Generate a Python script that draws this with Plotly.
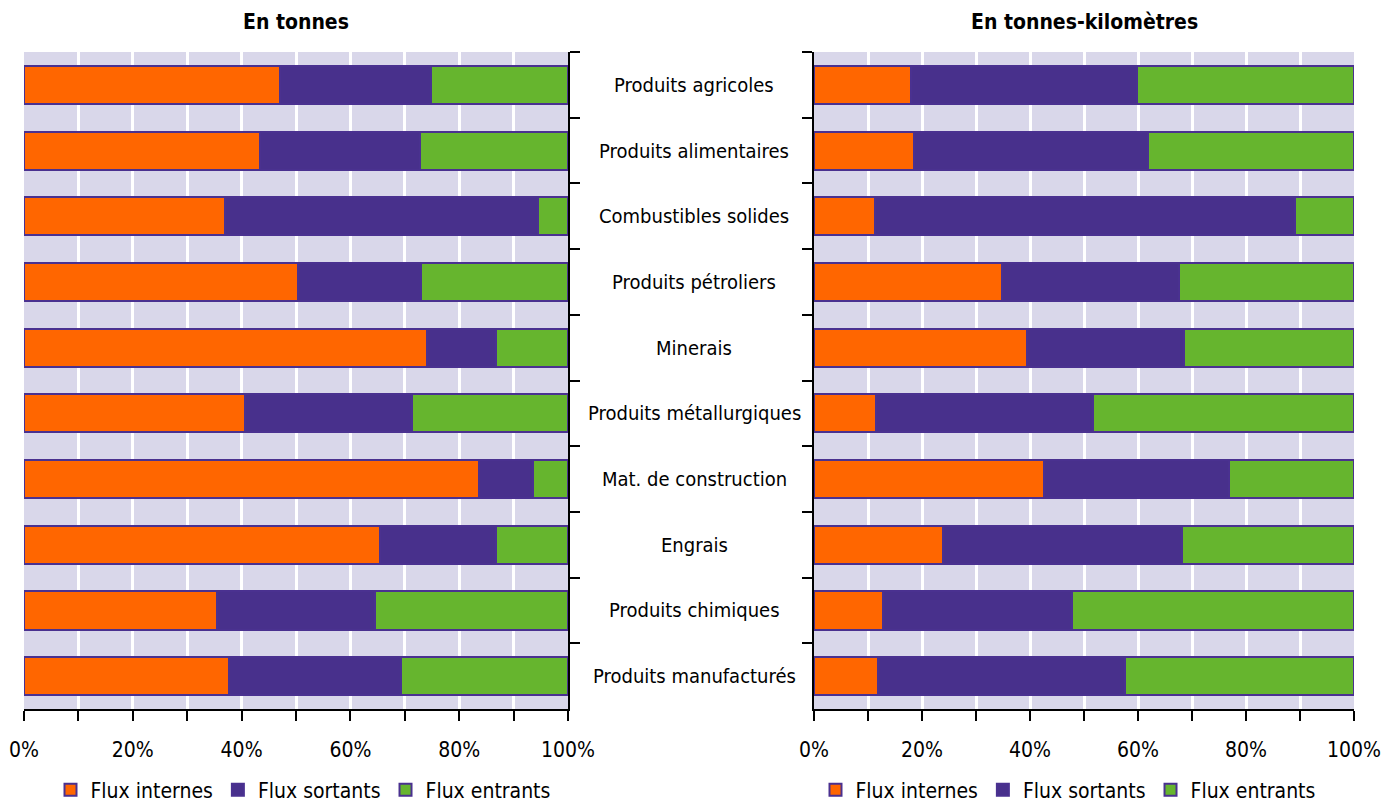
import plotly.graph_objects as go

categories = [
    "Produits agricoles",
    "Produits alimentaires",
    "Combustibles solides",
    "Produits pétroliers",
    "Minerais",
    "Produits métallurgiques",
    "Mat. de construction",
    "Engrais",
    "Produits chimiques",
    "Produits manufacturés",
]

series_names = ["Flux internes", "Flux sortants", "Flux entrants"]

# Parts (%) en tonnes
tonnes_internes = [47.1, 43.4, 36.9, 50.3, 74.1, 40.7, 83.6, 65.4, 35.5, 37.6]
tonnes_sortants = [27.7, 29.4, 57.5, 22.6, 12.7, 30.6, 9.9, 21.3, 29.0, 31.7]
tonnes_entrants = [25.2, 27.2, 5.6, 27.1, 13.2, 28.7, 6.5, 13.3, 35.5, 30.7]

# Parts (%) en tonnes-kilomètres
tkm_internes = [17.9, 18.5, 11.3, 34.9, 39.4, 11.4, 42.5, 23.8, 12.8, 11.8]
tkm_sortants = [42.0, 43.4, 77.8, 32.7, 29.1, 40.2, 34.3, 44.3, 35.0, 45.7]
tkm_entrants = [40.1, 38.1, 10.9, 32.4, 31.5, 48.4, 23.2, 31.9, 52.2, 42.5]

titles = ["En tonnes", "En tonnes-kilomètres"]
x_ticks = [0, 20, 40, 60, 80, 100]
x_minor = [10, 30, 50, 70, 90]

colors = ["#FF6600", "#48308C", "#66B52E"]
edge = "#4A3190"
bg = "#D9D7EA"
FAMILY = "DejaVu Sans Condensed, Liberation Sans Narrow, Roboto, sans-serif"


def font(size=21, bold=False):
    return dict(family=FAMILY, size=size, color="black",
                weight="bold" if bold else "normal")


fig = go.Figure()

panels = [
    ("x", "y", "legend", [tonnes_internes, tonnes_sortants, tonnes_entrants]),
    ("x2", "y2", "legend2", [tkm_internes, tkm_sortants, tkm_entrants]),
]
for xa, ya, leg, vals in panels:
    for name, color, v in zip(series_names, colors, vals):
        fig.add_trace(go.Bar(
            y=categories, x=v, name=name, orientation="h",
            marker=dict(color=color, line=dict(color=edge, width=2)),
            xaxis=xa, yaxis=ya, legend=leg, hoverinfo="x+y+name",
        ))

n = len(categories)
bounds = [i - 0.5 for i in range(n + 1)]

x_common = dict(
    range=[0, 100], tickmode="array", tickvals=x_ticks,
    ticktext=[f"{t}%" for t in x_ticks],
    ticks="outside", ticklen=10, tickwidth=2, tickcolor="black",
    showline=True, linecolor="black", linewidth=2,
    showgrid=True, gridcolor="white", gridwidth=3,
    minor=dict(tickmode="array", tickvals=x_minor, ticks="outside",
               ticklen=10, tickwidth=2, tickcolor="black",
               showgrid=True, gridcolor="white", gridwidth=3),
    zeroline=False, fixedrange=True, ticklabelstandoff=11,
    automargin=False, tickfont=font(),
)
x_inner = dict(
    range=[0, 100], tickmode="array", tickvals=x_ticks + x_minor,
    ticks="inside", ticklen=10, tickwidth=2, tickcolor="black",
    showticklabels=False, showgrid=False, zeroline=False, showline=False,
    side="bottom", automargin=False,
)
y_common = dict(
    type="category", categoryorder="array", categoryarray=categories,
    autorange="reversed", tickson="boundaries",
    ticks="outside", ticklen=10, tickwidth=2, tickcolor="black",
    showticklabels=False, showline=True, linecolor="black", linewidth=2,
    showgrid=False, zeroline=False, fixedrange=True, automargin=False,
)
y_inner = dict(
    range=[n - 0.5, -0.5], tickmode="array", tickvals=bounds,
    ticks="inside", ticklen=10, tickwidth=2, tickcolor="black",
    showticklabels=False, showgrid=False, zeroline=False, showline=False,
    automargin=False,
)

ydom = [1 - 709 / 803, 1 - 52 / 803]
legend_common = dict(orientation="h", xanchor="center", y=1 - 790 / 803,
                     yanchor="middle", font=font(), traceorder="normal",
                     bgcolor="rgba(0,0,0,0)", itemwidth=30)
fig.update_layout(
    width=1396, height=803,
    margin=dict(l=0, r=0, t=0, b=0, autoexpand=False),
    paper_bgcolor="white", plot_bgcolor=bg,
    barmode="stack", bargap=0.42,
    font=font(),
    xaxis=dict(domain=[24 / 1396, 568 / 1396], anchor="y", **x_common),
    yaxis=dict(domain=ydom, anchor="x", side="right", **y_common),
    xaxis2=dict(domain=[814 / 1396, 1354 / 1396], anchor="y2", **x_common),
    yaxis2=dict(domain=ydom, anchor="x2", side="left", **y_common),
    xaxis3=dict(overlaying="x", anchor="y", **x_inner),
    yaxis3=dict(overlaying="y", anchor="x", side="right", **y_inner),
    xaxis4=dict(overlaying="x2", anchor="y2", **x_inner),
    yaxis4=dict(overlaying="y2", anchor="x2", side="left", **y_inner),
    legend=dict(x=303 / 1396, **legend_common),
    legend2=dict(x=1068 / 1396, **legend_common),
    showlegend=True,
)

# Category labels between the two panels
for cat in categories:
    fig.add_annotation(text=cat, x=694 / 1396, xref="paper", y=cat, yref="y",
                       showarrow=False, xanchor="center", yanchor="middle",
                       font=font(20))

# Panel titles
for title, xref in zip(titles, ["x domain", "x2 domain"]):
    fig.add_annotation(text=title, x=0.5, xref=xref,
                       y=1 - 22 / 803, yref="paper", showarrow=False,
                       xanchor="center", yanchor="middle",
                       font=font(bold=True))

fig.write_html("out.html")
